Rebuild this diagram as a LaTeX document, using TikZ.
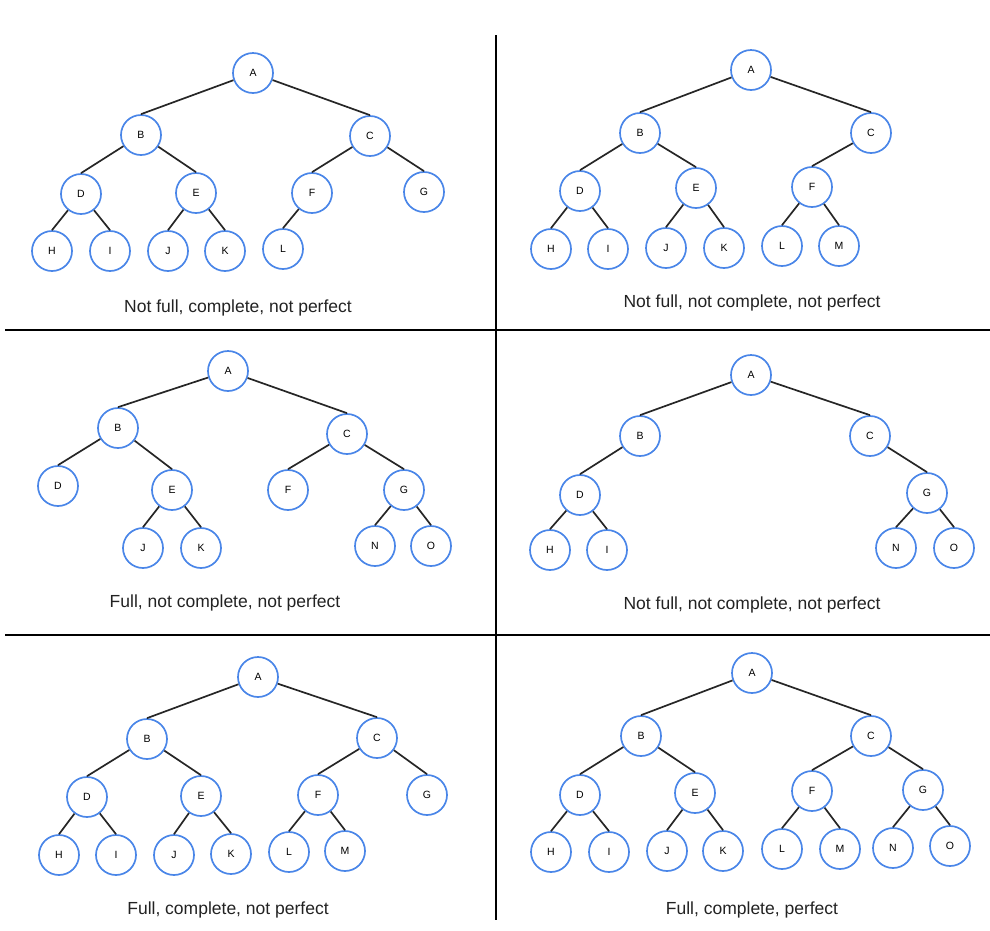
\documentclass[tikz,border=0pt]{standalone}
\usepackage{fontspec}
\setmainfont{Liberation Sans}
\definecolor{treeblue}{HTML}{4A86E8}
\definecolor{captext}{HTML}{222222}
\tikzset{
  vert/.style={draw=treeblue, circle, line width=1.7pt, minimum size=40pt, inner sep=0pt, font=\fontsize{10.5}{12}\selectfont},
  edge/.style={line width=1.7pt, color=black!85},
  caption/.style={font=\fontsize{17.5}{20}\selectfont, text=captext},
}
\begin{document}
\begin{tikzpicture}[x=1pt,y=-1pt]
    \useasboundingbox (0,0) rectangle (990,930);
    % dividers
    \draw[line width=2pt] (5,330) -- (990,330);
    \draw[line width=2pt] (5,635) -- (990,635);
    \draw[line width=2pt] (496,35) -- (496,920);

    % top left
    \node[vert] (a1) at (253,73) {A};
    \node[vert] (b1) at (141,135) {B};
    \node[vert] (c1) at (370,136) {C};
    \node[vert] (d1) at (81,194) {D};
    \node[vert] (e1) at (196,193) {E};
    \node[vert] (f1) at (312,193) {F};
    \node[vert] (g1) at (424,192) {G};
    \node[vert] (h1) at (52,251) {H};
    \node[vert] (i1) at (110,251) {I};
    \node[vert] (j1) at (168,251) {J};
    \node[vert] (k1) at (225,251) {K};
    \node[vert] (l1) at (283,249) {L};
    \draw[edge] (a1) -- (b1.north) (a1) -- (c1.north) (b1) -- (d1.north) (b1) -- (e1.north) (c1) -- (f1.north) (c1) -- (g1.north);
    \draw[edge] (d1) -- (h1.north) (d1) -- (i1.north) (e1) -- (j1.north) (e1) -- (k1.north) (f1) -- (l1.north);
    \node[caption] (cap1) at (238,308) {Not full, complete, not perfect};

    % top right
    \node[vert] (a2) at (751,70) {A};
    \node[vert] (b2) at (640,133) {B};
    \node[vert] (c2) at (871,133) {C};
    \node[vert] (d2) at (580,191) {D};
    \node[vert] (e2) at (696,188) {E};
    \node[vert] (f2) at (812,187) {F};
    \node[vert] (h2) at (551,249) {H};
    \node[vert] (i2) at (608,249) {I};
    \node[vert] (j2) at (666,248) {J};
    \node[vert] (k2) at (724,248) {K};
    \node[vert] (l2) at (782,246) {L};
    \node[vert] (m2) at (839,246) {M};
    \draw[edge] (a2) -- (b2.north) (a2) -- (c2.north) (b2) -- (d2.north) (b2) -- (e2.north) (c2) -- (f2.north);
    \draw[edge] (d2) -- (h2.north) (d2) -- (i2.north) (e2) -- (j2.north) (e2) -- (k2.north) (f2) -- (l2.north) (f2) -- (m2.north);
    \node[caption] (cap2) at (752,303) {Not full, not complete, not perfect};

    % middle left
    \node[vert] (a3) at (228,371) {A};
    \node[vert] (b3) at (118,428) {B};
    \node[vert] (c3) at (347,434) {C};
    \node[vert] (d3) at (58,486) {D};
    \node[vert] (e3) at (172,490) {E};
    \node[vert] (f3) at (288,490) {F};
    \node[vert] (g3) at (404,490) {G};
    \node[vert] (j3) at (143,548) {J};
    \node[vert] (k3) at (201,548) {K};
    \node[vert] (n3) at (375,546) {N};
    \node[vert] (o3) at (431,546) {O};
    \draw[edge] (a3) -- (b3.north) (a3) -- (c3.north) (b3) -- (d3.north) (b3) -- (e3.north) (c3) -- (f3.north) (c3) -- (g3.north);
    \draw[edge] (e3) -- (j3.north) (e3) -- (k3.north) (g3) -- (n3.north) (g3) -- (o3.north);
    \node[caption] (cap3) at (225,603) {Full, not complete, not perfect};

    % middle right
    \node[vert] (a4) at (751,375) {A};
    \node[vert] (b4) at (640,436) {B};
    \node[vert] (c4) at (870,436) {C};
    \node[vert] (d4) at (580,495) {D};
    \node[vert] (g4) at (927,493) {G};
    \node[vert] (h4) at (550,550) {H};
    \node[vert] (i4) at (607,550) {I};
    \node[vert] (n4) at (896,548) {N};
    \node[vert] (o4) at (954,548) {O};
    \draw[edge] (a4) -- (b4.north) (a4) -- (c4.north) (b4) -- (d4.north) (c4) -- (g4.north);
    \draw[edge] (d4) -- (h4.north) (d4) -- (i4.north) (g4) -- (n4.north) (g4) -- (o4.north);
    \node[caption] (cap4) at (752,605) {Not full, not complete, not perfect};

    % bottom left
    \node[vert] (a5) at (258,677) {A};
    \node[vert] (b5) at (147,739) {B};
    \node[vert] (c5) at (377,738) {C};
    \node[vert] (d5) at (87,797) {D};
    \node[vert] (e5) at (201,796) {E};
    \node[vert] (f5) at (318,795) {F};
    \node[vert] (g5) at (427,795) {G};
    \node[vert] (h5) at (59,855) {H};
    \node[vert] (i5) at (116,855) {I};
    \node[vert] (j5) at (174,855) {J};
    \node[vert] (k5) at (231,854) {K};
    \node[vert] (l5) at (289,852) {L};
    \node[vert] (m5) at (345,851) {M};
    \draw[edge] (a5) -- (b5.north) (a5) -- (c5.north) (b5) -- (d5.north) (b5) -- (e5.north) (c5) -- (f5.north) (c5) -- (g5.north);
    \draw[edge] (d5) -- (h5.north) (d5) -- (i5.north) (e5) -- (j5.north) (e5) -- (k5.north) (f5) -- (l5.north) (f5) -- (m5.north);
    \node[caption] (cap5) at (228,910) {Full, complete, not perfect};

    % bottom right
    \node[vert] (a6) at (752,673) {A};
    \node[vert] (b6) at (641,736) {B};
    \node[vert] (c6) at (871,736) {C};
    \node[vert] (d6) at (580,795) {D};
    \node[vert] (e6) at (695,793) {E};
    \node[vert] (f6) at (812,791) {F};
    \node[vert] (g6) at (923,790) {G};
    \node[vert] (h6) at (551,852) {H};
    \node[vert] (i6) at (609,852) {I};
    \node[vert] (j6) at (667,851) {J};
    \node[vert] (k6) at (723,851) {K};
    \node[vert] (l6) at (782,849) {L};
    \node[vert] (m6) at (840,849) {M};
    \node[vert] (n6) at (893,848) {N};
    \node[vert] (o6) at (950,846) {O};
    \draw[edge] (a6) -- (b6.north) (a6) -- (c6.north) (b6) -- (d6.north) (b6) -- (e6.north) (c6) -- (f6.north) (c6) -- (g6.north);
    \draw[edge] (d6) -- (h6.north) (d6) -- (i6.north) (e6) -- (j6.north) (e6) -- (k6.north) (f6) -- (l6.north) (f6) -- (m6.north) (g6) -- (n6.north) (g6) -- (o6.north);
    \node[caption] (cap6) at (752,910) {Full, complete, perfect};
\end{tikzpicture}
\end{document}
